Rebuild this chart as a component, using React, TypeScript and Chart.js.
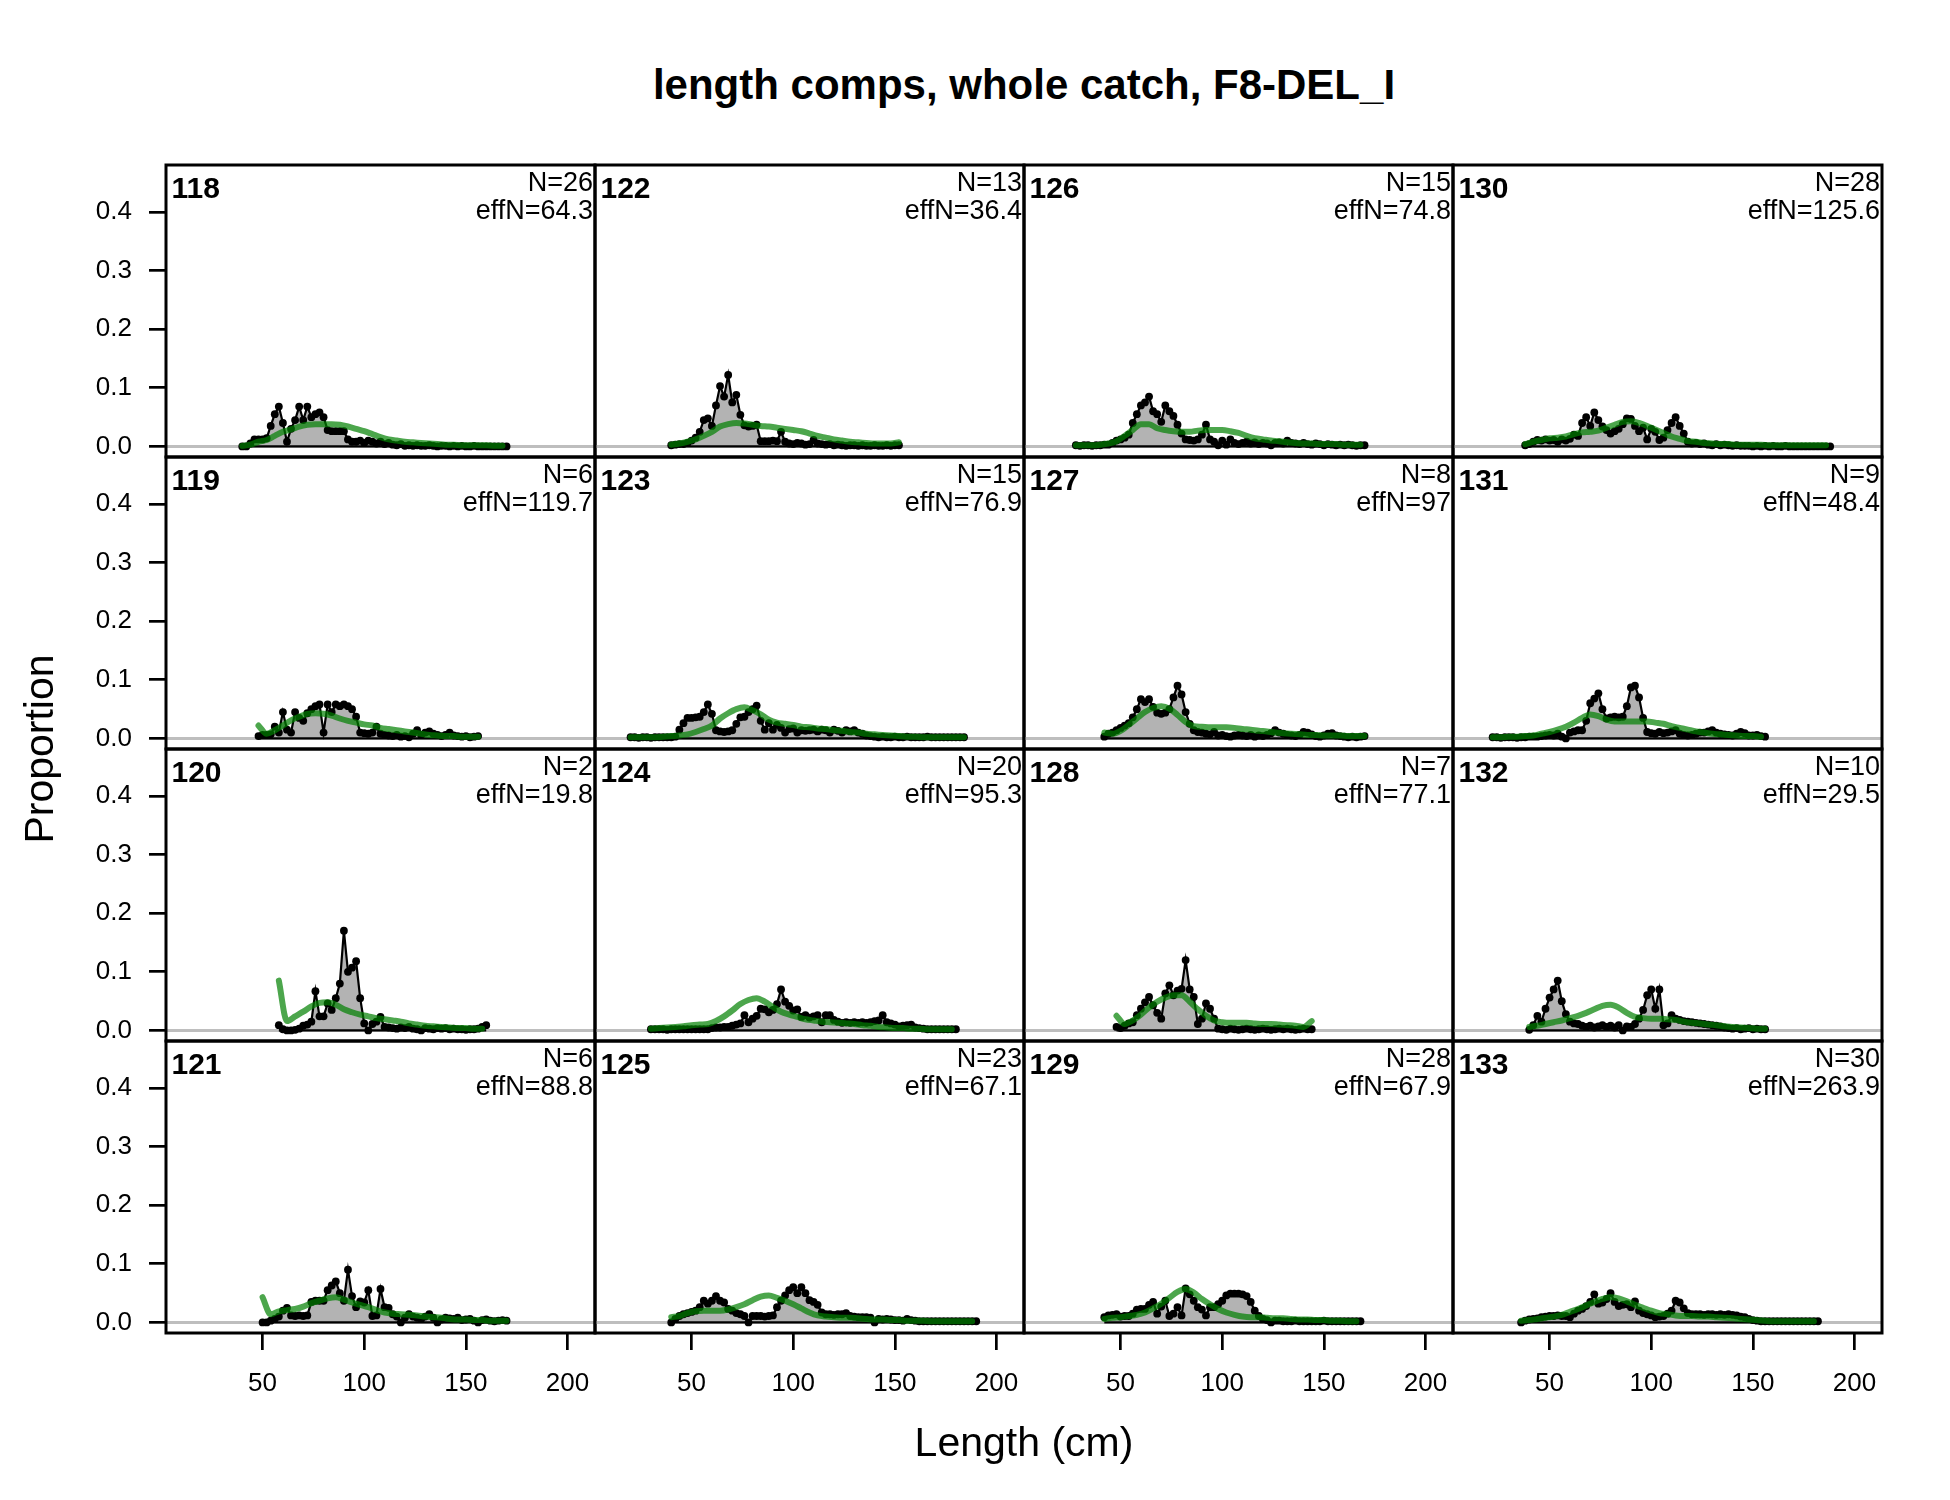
import React, { useEffect, useRef } from "react";
import { Chart, registerables } from "chart.js";

Chart.register(...registerables);

const FONT = '"Liberation Sans", Arial, Helvetica, sans-serif';

// ---------- data ----------
const TITLE = "length comps, whole catch, F8-DEL_I";
const X_TITLE = "Length (cm)";
const Y_TITLE = "Proportion";

// panels in column-major order (4 columns x 4 rows)
const PANEL_LABELS = [118, 119, 120, 121, 122, 123, 124, 125, 126, 127, 128, 129, 130, 131, 132, 133];
const N_VALUES = [26, 6, 2, 6, 13, 15, 20, 23, 15, 8, 7, 28, 28, 9, 10, 30];
const EFFN_VALUES = ["64.3", "119.7", "19.8", "88.8", "36.4", "76.9", "95.3", "67.1", "74.8", "97", "77.1", "67.9", "125.6", "48.4", "29.5", "263.9"];
const FIRST_BIN = [40, 48, 58, 50, 40, 20, 30, 40, 28, 42, 48, 42, 38, 22, 40, 36];
const BIN_WIDTH = 2; // observed bins, cm
const EXP_STEP = 4; // expected values are read every 4 cm

const X_TICKS = [50, 100, 150, 200];
const Y_TICKS = [0, 0.1, 0.2, 0.3, 0.4];
const X_MIN = 2.5;
const X_MAX = 213.5;
const Y_MIN = -0.018;
const Y_MAX = 0.48;

const OBS_118 = [0, 0, 0.005, 0.012, 0.012, 0.012, 0.014, 0.035, 0.055, 0.068,
  0.04, 0.008, 0.03, 0.045, 0.068, 0.045, 0.068, 0.05, 0.055, 0.058,
  0.05, 0.028, 0.026, 0.026, 0.026, 0.026, 0.012, 0.008, 0.008, 0.01,
  0.006, 0.01, 0.008, 0.005, 0.008, 0.004, 0.006, 0.003, 0.002, 0.004,
  0.001, 0.002, 0.001, 0.002, 0.001, 0.001, 0.002, 0.001, 0, 0.001,
  0.001, 0, 0.001, 0, 0.001, 0, 0, 0.001, 0, 0,
  0, 0, 0, 0, 0, 0];
const EXP_118 = [0.001, 0.003, 0.008, 0.011, 0.018, 0.025, 0.029, 0.034, 0.037, 0.038,
  0.038, 0.038, 0.037, 0.034, 0.03, 0.026, 0.021, 0.016, 0.012, 0.01,
  0.008, 0.007, 0.006, 0.005, 0.004, 0.003, 0.003, 0.002, 0.002, 0.002,
  0.002, 0.001, 0.001];

const OBS_119 = [0.004, 0.006, 0.006, 0.007, 0.02, 0.01, 0.045, 0.015, 0.01, 0.045,
  0.035, 0.03, 0.043, 0.05, 0.055, 0.058, 0.01, 0.058, 0.045, 0.058,
  0.055, 0.058, 0.055, 0.05, 0.037, 0.01, 0.009, 0.008, 0.01, 0.02,
  0.008, 0.006, 0.005, 0.004, 0.006, 0.003, 0.004, 0.002, 0.008, 0.014,
  0.006, 0.01, 0.012, 0.008, 0.006, 0.004, 0.006, 0.01, 0.005, 0.004,
  0.003, 0.004, 0.002, 0.003, 0.004];
const EXP_119 = [0.022, 0.008, 0.014, 0.022, 0.031, 0.037, 0.042, 0.043, 0.042, 0.039,
  0.034, 0.03, 0.027, 0.024, 0.022, 0.018, 0.016, 0.014, 0.012, 0.01,
  0.008, 0.006, 0.005, 0.004, 0.004, 0.003, 0.003, 0.003];

const OBS_120 = [0.009, 0.002, 0, 0, 0.001, 0.003, 0.008, 0.01, 0.015, 0.067,
  0.024, 0.024, 0.046, 0.035, 0.055, 0.08, 0.17, 0.1, 0.107, 0.118,
  0.055, 0.012, 0, 0.011, 0.015, 0.023, 0.006, 0.005, 0.004, 0.003,
  0.005, 0.004, 0.006, 0.003, 0.002, 0, 0.004, 0.003, 0.002, 0.004,
  0.003, 0.004, 0.002, 0.003, 0.002, 0.002, 0.001, 0.002, 0.002, 0.003,
  0.006, 0.009];
const EXP_120 = [0.085, 0.016, 0.024, 0.032, 0.041, 0.047, 0.048, 0.044, 0.036, 0.031,
  0.027, 0.024, 0.021, 0.019, 0.017, 0.015, 0.012, 0.01, 0.008, 0.007,
  0.006, 0.005, 0.004, 0.004, 0.003, 0.003];

const OBS_121 = [0, 0, 0.003, 0.006, 0.01, 0.02, 0.025, 0.012, 0.011, 0.012,
  0.011, 0.012, 0.035, 0.037, 0.037, 0.037, 0.055, 0.063, 0.07, 0.05,
  0.037, 0.09, 0.045, 0.026, 0.036, 0.034, 0.055, 0.011, 0.012, 0.057,
  0.026, 0.025, 0.014, 0.01, 0, 0.008, 0.014, 0.01, 0.008, 0.006,
  0.01, 0.014, 0.008, 0, 0.005, 0.008, 0.007, 0.006, 0.008, 0.004,
  0.005, 0.006, 0.003, 0, 0.004, 0.005, 0.003, 0.002, 0.003, 0.004,
  0.003];
const EXP_121 = [0.043, 0.014, 0.019, 0.021, 0.023, 0.027, 0.033, 0.037, 0.041, 0.043,
  0.039, 0.034, 0.03, 0.026, 0.021, 0.017, 0.015, 0.014, 0.013, 0.012,
  0.01, 0.009, 0.008, 0.006, 0.005, 0.005, 0.004, 0.004, 0.003, 0.003,
  0.003];

const OBS_122 = [0.002, 0.003, 0.004, 0.004, 0.006, 0.01, 0.015, 0.025, 0.045, 0.048,
  0.035, 0.07, 0.103, 0.085, 0.122, 0.075, 0.088, 0.054, 0.036, 0.034,
  0.035, 0.037, 0.009, 0.009, 0.009, 0.01, 0.009, 0.025, 0.008, 0.005,
  0.004, 0.006, 0.005, 0.003, 0.004, 0.011, 0.005, 0.004, 0.003, 0.004,
  0.002, 0.003, 0.002, 0.001, 0.002, 0.002, 0.001, 0.002, 0.001, 0.001,
  0.002, 0.001, 0.001, 0.002, 0.001, 0.002, 0.002];
const EXP_122 = [0.003, 0.005, 0.008, 0.012, 0.018, 0.025, 0.034, 0.038, 0.04, 0.039,
  0.037, 0.035, 0.034, 0.032, 0.03, 0.028, 0.026, 0.022, 0.018, 0.015,
  0.012, 0.01, 0.008, 0.007, 0.006, 0.005, 0.005, 0.005, 0.007];

const OBS_123 = [0.002, 0.002, 0.001, 0.002, 0.002, 0.001, 0.002, 0.002, 0.002, 0.002,
  0.002, 0.003, 0.015, 0.026, 0.035, 0.035, 0.036, 0.037, 0.045, 0.058,
  0.042, 0.014, 0.012, 0.011, 0.012, 0.014, 0.025, 0.036, 0.037, 0.045,
  0.05, 0.056, 0.03, 0.015, 0.026, 0.015, 0.023, 0.018, 0.01, 0.016,
  0.017, 0.01, 0.014, 0.013, 0.014, 0.015, 0.012, 0.015, 0.014, 0.01,
  0.015, 0.013, 0.01, 0.014, 0.012, 0.014, 0.01, 0.008, 0.005, 0.004,
  0.003, 0.002, 0.003, 0.002, 0.002, 0.003, 0.002, 0.002, 0.003, 0.002,
  0.002, 0.002, 0.002, 0.003, 0.002, 0.002, 0.002, 0.002, 0.002, 0.002,
  0.002, 0.002, 0.002];
const EXP_123 = [0.002, 0.002, 0.002, 0.002, 0.003, 0.004, 0.005, 0.007, 0.011, 0.016,
  0.022, 0.034, 0.043, 0.05, 0.053, 0.048, 0.041, 0.032, 0.027, 0.025,
  0.023, 0.02, 0.019, 0.017, 0.016, 0.014, 0.013, 0.011, 0.01, 0.008,
  0.007, 0.006, 0.005, 0.004, 0.003, 0.003, 0.002, 0.002, 0.002, 0.002,
  0.002, 0.002];

const OBS_124 = [0.002, 0.002, 0.002, 0.002, 0.001, 0.002, 0.002, 0.002, 0.002, 0.002,
  0.002, 0.002, 0.002, 0.002, 0.002, 0.004, 0.005, 0.005, 0.006, 0.006,
  0.008, 0.01, 0.012, 0.026, 0.014, 0.02, 0.025, 0.037, 0.036, 0.031,
  0.035, 0.045, 0.07, 0.049, 0.042, 0.034, 0.036, 0.023, 0.026, 0.022,
  0.024, 0.026, 0.014, 0.026, 0.026, 0.018, 0.015, 0.013, 0.014, 0.013,
  0.014, 0.013, 0.014, 0.013, 0.014, 0.016, 0.017, 0.026, 0.014, 0.012,
  0.01, 0.007, 0.008, 0.009, 0.01, 0.005, 0.004, 0.003, 0.002, 0.002,
  0.002, 0.002, 0.002, 0.002, 0.002, 0.002];
const EXP_124 = [0.003, 0.004, 0.005, 0.006, 0.007, 0.009, 0.01, 0.011, 0.016, 0.024,
  0.034, 0.045, 0.052, 0.055, 0.049, 0.04, 0.032, 0.027, 0.023, 0.019,
  0.017, 0.015, 0.014, 0.013, 0.012, 0.011, 0.009, 0.008, 0.006, 0.005,
  0.004, 0.004, 0.003, 0.003, 0.002, 0.002, 0.002, 0.002];

const OBS_125 = [0, 0.006, 0.011, 0.014, 0.016, 0.018, 0.02, 0.026, 0.037, 0.032,
  0.037, 0.045, 0.037, 0.034, 0.023, 0.02, 0.016, 0.014, 0.011, 0,
  0.011, 0.011, 0.011, 0.01, 0.011, 0.012, 0.026, 0.037, 0.046, 0.055,
  0.06, 0.05, 0.06, 0.05, 0.038, 0.035, 0.03, 0.017, 0.014, 0.014,
  0.013, 0.014, 0.014, 0.016, 0.011, 0.01, 0.009, 0.009, 0.009, 0.008,
  0, 0.006, 0.005, 0.006, 0.005, 0.004, 0.004, 0.003, 0.006, 0.004,
  0.003, 0.002, 0.002, 0.002, 0.002, 0.002, 0.002, 0.002, 0.002, 0.002,
  0.002, 0.002, 0.002, 0.002, 0.002, 0.002];
const EXP_125 = [0.009, 0.011, 0.016, 0.019, 0.02, 0.02, 0.02, 0.022, 0.026, 0.031,
  0.038, 0.044, 0.046, 0.042, 0.037, 0.031, 0.024, 0.017, 0.012, 0.01,
  0.009, 0.008, 0.008, 0.007, 0.006, 0.005, 0.005, 0.004, 0.004, 0.003,
  0.003, 0.003, 0.002, 0.002, 0.002, 0.002, 0.002, 0.002];

const OBS_126 = [0.002, 0.001, 0.002, 0.002, 0.001, 0.002, 0.002, 0.003, 0.003,
  0.006, 0.01, 0.012, 0.015, 0.02, 0.04, 0.055, 0.07, 0.075, 0.085,
  0.06, 0.055, 0.042, 0.07, 0.06, 0.052, 0.037, 0.022, 0.012, 0.011,
  0.01, 0.012, 0.02, 0.037, 0.012, 0.008, 0.002, 0.01, 0.003, 0.012,
  0.006, 0.004, 0.006, 0.008, 0.005, 0.007, 0.004, 0.006, 0.005, 0.002,
  0.006, 0.007, 0.005, 0.01, 0.006, 0.005, 0.004, 0.006, 0.004, 0.003,
  0.005, 0.004, 0.002, 0.004, 0.003, 0.002, 0.003, 0.002, 0.003, 0.002,
  0.001, 0.002, 0.002];
const EXP_126 = [0.002, 0.002, 0.002, 0.003, 0.005, 0.009, 0.018, 0.028, 0.038, 0.038,
  0.031, 0.028, 0.026, 0.025, 0.025, 0.027, 0.028, 0.028, 0.028, 0.026,
  0.023, 0.018, 0.014, 0.012, 0.01, 0.009, 0.007, 0.006, 0.005, 0.005,
  0.004, 0.004, 0.004, 0.003, 0.003, 0.003];

const OBS_127 = [0.003, 0.008, 0.01, 0.014, 0.018, 0.022, 0.026, 0.036, 0.05, 0.067,
  0.062, 0.067, 0.054, 0.044, 0.042, 0.044, 0.05, 0.07, 0.09, 0.075,
  0.045, 0.025, 0.014, 0.011, 0.01, 0.008, 0.007, 0.011, 0.005, 0.006,
  0.004, 0.003, 0.005, 0.006, 0.005, 0.004, 0.006, 0.003, 0.005, 0.004,
  0.006, 0.009, 0.014, 0.01, 0.008, 0.006, 0.005, 0.004, 0.006, 0.011,
  0.01, 0.007, 0.004, 0.003, 0.005, 0.008, 0.009, 0.005, 0.004, 0.003,
  0.002, 0.003, 0.002, 0.003, 0.004];
const EXP_127 = [0.01, 0.008, 0.013, 0.023, 0.034, 0.045, 0.052, 0.055, 0.051, 0.04,
  0.028, 0.021, 0.02, 0.019, 0.019, 0.019, 0.018, 0.016, 0.015, 0.013,
  0.012, 0.01, 0.009, 0.008, 0.007, 0.006, 0.006, 0.005, 0.005, 0.005,
  0.004, 0.004, 0.004];

const OBS_128 = [0.006, 0.004, 0.008, 0.012, 0.014, 0.026, 0.037, 0.048, 0.057, 0.043,
  0.03, 0.02, 0.063, 0.077, 0.06, 0.068, 0.071, 0.12, 0.07, 0.057,
  0.011, 0.02, 0.046, 0.037, 0.02, 0.003, 0.002, 0.001, 0.003, 0.002,
  0.001, 0.002, 0.003, 0.002, 0.001, 0.002, 0.003, 0.002, 0.001, 0.002,
  0.003, 0.002, 0.003, 0.002, 0.001, 0.002, 0.003, 0.002, 0.002];
const EXP_128 = [0.025, 0.011, 0.017, 0.027, 0.039, 0.049, 0.056, 0.06, 0.06, 0.049,
  0.036, 0.025, 0.017, 0.014, 0.013, 0.013, 0.013, 0.012, 0.011, 0.011,
  0.01, 0.009, 0.008, 0.006, 0.016];

const OBS_129 = [0.009, 0.012, 0.013, 0.014, 0.01, 0.011, 0.011, 0.015, 0.022, 0.023,
  0.023, 0.03, 0.035, 0.015, 0.027, 0.037, 0.011, 0.015, 0.026, 0.012,
  0.058, 0.048, 0.037, 0.026, 0.022, 0.012, 0.026, 0.026, 0.031, 0.037,
  0.046, 0.049, 0.049, 0.049, 0.048, 0.045, 0.035, 0.02, 0.011, 0.006,
  0.004, 0, 0.003, 0.003, 0.002, 0.002, 0.002, 0.003, 0.002, 0.002,
  0.002, 0.002, 0.002, 0.002, 0.003, 0.002, 0.002, 0.002, 0.002, 0.002,
  0.002, 0.002, 0.002, 0.002];
const EXP_129 = [0.006, 0.008, 0.009, 0.011, 0.013, 0.017, 0.024, 0.032, 0.042, 0.052,
  0.057, 0.051, 0.04, 0.031, 0.023, 0.017, 0.013, 0.01, 0.009, 0.009,
  0.008, 0.007, 0.007, 0.006, 0.005, 0.005, 0.004, 0.004, 0.003, 0.003,
  0.002, 0.002];

const OBS_130 = [0.002, 0.004, 0.008, 0.011, 0.01, 0.012, 0.01, 0.011, 0.008, 0.012,
  0.01, 0.013, 0.02, 0.018, 0.04, 0.05, 0.035, 0.058, 0.045, 0.034,
  0.028, 0.022, 0.026, 0.03, 0.038, 0.048, 0.047, 0.035, 0.026, 0.032,
  0.012, 0.03, 0.025, 0.011, 0.015, 0.028, 0.04, 0.05, 0.035, 0.022,
  0.008, 0.005, 0.006, 0.004, 0.005, 0.003, 0.002, 0.004, 0.002, 0.003,
  0.002, 0.001, 0.002, 0.001, 0.001, 0.001, 0, 0.001, 0, 0.001,
  0, 0.001, 0, 0, 0.001, 0, 0, 0, 0, 0,
  0, 0, 0, 0, 0, 0];
const EXP_130 = [0.004, 0.008, 0.011, 0.014, 0.015, 0.017, 0.021, 0.024, 0.025, 0.027,
  0.032, 0.037, 0.042, 0.043, 0.04, 0.035, 0.029, 0.023, 0.017, 0.013,
  0.009, 0.008, 0.006, 0.005, 0.004, 0.004, 0.003, 0.003, 0.003, 0.003,
  0.002, 0.002, 0.002, 0.002, 0.002, 0.002, 0.002, 0.002];

const OBS_131 = [0.002, 0.002, 0.001, 0.002, 0.002, 0.002, 0.001, 0.002, 0.002, 0.003,
  0.003, 0.003, 0.004, 0.005, 0.006, 0.005, 0.008, 0.003, 0, 0.01,
  0.012, 0.014, 0.014, 0.03, 0.06, 0.068, 0.077, 0.05, 0.034, 0.036,
  0.037, 0.036, 0.037, 0.055, 0.087, 0.09, 0.07, 0.035, 0.011, 0.009,
  0.008, 0.011, 0.009, 0.01, 0.012, 0.014, 0.008, 0.006, 0.005, 0.006,
  0.008, 0.01, 0.01, 0.012, 0.014, 0.01, 0.008, 0.007, 0.006, 0.005,
  0.008, 0.011, 0.009, 0.005, 0.005, 0.006, 0.004, 0.003];
const EXP_131 = [0.002, 0.002, 0.003, 0.003, 0.004, 0.005, 0.008, 0.011, 0.015, 0.02,
  0.027, 0.035, 0.041, 0.038, 0.032, 0.029, 0.029, 0.029, 0.029, 0.029,
  0.027, 0.025, 0.021, 0.018, 0.015, 0.012, 0.01, 0.008, 0.007, 0.006,
  0.005, 0.004, 0.004, 0.003];

const OBS_132 = [0.001, 0.009, 0.025, 0.015, 0.037, 0.056, 0.07, 0.085, 0.05, 0.028,
  0.015, 0.012, 0.011, 0.008, 0.006, 0.008, 0.005, 0.007, 0.009, 0.006,
  0.008, 0.005, 0.009, 0, 0.007, 0.006, 0.011, 0.02, 0.035, 0.06,
  0.07, 0.037, 0.07, 0.009, 0.012, 0.026, 0.02, 0.018, 0.016, 0.015,
  0.014, 0.013, 0.012, 0.011, 0.01, 0.009, 0.008, 0.007, 0.005, 0.004,
  0.003, 0.004, 0.002, 0.003, 0.004, 0.002, 0.003, 0.002, 0.002];
const EXP_132 = [0.006, 0.008, 0.011, 0.014, 0.017, 0.021, 0.025, 0.03, 0.036, 0.042,
  0.044, 0.039, 0.03, 0.023, 0.021, 0.02, 0.02, 0.019, 0.018, 0.015,
  0.013, 0.012, 0.01, 0.009, 0.007, 0.006, 0.005, 0.004, 0.003, 0.003];

const OBS_133 = [0, 0.003, 0.005, 0.006, 0.007, 0.009, 0.01, 0.011, 0.011, 0.012,
  0.011, 0.011, 0.009, 0.015, 0.02, 0.023, 0.028, 0.035, 0.048, 0.032,
  0.034, 0.04, 0.05, 0.035, 0.028, 0.03, 0.031, 0.026, 0.036, 0.02,
  0.016, 0.014, 0.012, 0.009, 0.01, 0.011, 0.015, 0.02, 0.037, 0.034,
  0.024, 0.016, 0.014, 0.014, 0.014, 0.013, 0.014, 0.014, 0.013, 0.014,
  0.013, 0.014, 0.013, 0.012, 0.01, 0.009, 0.006, 0.004, 0.003, 0.002,
  0.002, 0.002, 0.002, 0.002, 0.002, 0.002, 0.002, 0.002, 0.002, 0.002,
  0.002, 0.002, 0.002, 0.002];
const EXP_133 = [0.003, 0.004, 0.006, 0.008, 0.01, 0.013, 0.018, 0.023, 0.029, 0.035,
  0.04, 0.043, 0.041, 0.036, 0.03, 0.025, 0.02, 0.016, 0.014, 0.012,
  0.011, 0.011, 0.01, 0.01, 0.009, 0.008, 0.007, 0.006, 0.005, 0.004,
  0.003, 0.002, 0.002, 0.002, 0.002, 0.002, 0.002];

const OBS = [OBS_118, OBS_119, OBS_120, OBS_121, OBS_122, OBS_123, OBS_124, OBS_125,
  OBS_126, OBS_127, OBS_128, OBS_129, OBS_130, OBS_131, OBS_132, OBS_133];
const EXP = [EXP_118, EXP_119, EXP_120, EXP_121, EXP_122, EXP_123, EXP_124, EXP_125,
  EXP_126, EXP_127, EXP_128, EXP_129, EXP_130, EXP_131, EXP_132, EXP_133];

// ---------- layout ----------
const GRID_LEFT = 166;
const GRID_TOP = 165;
const PW = 429;
const PH = 292;
const AXIS_LEFT_SPACE = 166;
const AXIS_BOTTOM_SPACE = 90;

const framePlugin = {
  id: "frame",
  beforeDatasetsDraw(chart: any) {
    const { ctx, chartArea: a, scales } = chart;
    const py = scales.y.getPixelForValue(0);
    ctx.save();
    ctx.strokeStyle = "#bebebe";
    ctx.lineWidth = 3;
    ctx.beginPath();
    ctx.moveTo(a.left, py);
    ctx.lineTo(a.right, py);
    ctx.stroke();
    ctx.restore();
  },
  afterDraw(chart: any) {
    const { ctx, chartArea: a } = chart;
    ctx.save();
    ctx.strokeStyle = "#000";
    ctx.lineWidth = 3;
    ctx.strokeRect(a.left, a.top, a.right - a.left, a.bottom - a.top);
    ctx.restore();
  },
};

function Panel({ index }: { index: number }) {
  const ref = useRef<HTMLCanvasElement | null>(null);
  const col = Math.floor(index / 4);
  const row = index % 4;
  const hasY = col === 0;
  const hasX = row === 3;
  const ml = hasY ? AXIS_LEFT_SPACE : 6;
  const mr = 6;
  const mt = 6;
  const mb = hasX ? AXIS_BOTTOM_SPACE : 6;
  const w = PW + ml + mr;
  const h = PH + mt + mb;
  const left = GRID_LEFT + col * PW - ml;
  const top = GRID_TOP + row * PH - mt;

  useEffect(() => {
    const start = FIRST_BIN[index];
    const obsVals = OBS[index];
    const obs = obsVals.map((v, k) => ({ x: start + k * BIN_WIDTH, y: v }));
    const exp = EXP[index].map((v, k) => ({ x: start + k * EXP_STEP, y: v }));
    const lastBin = start + (obsVals.length - 1) * BIN_WIDTH;
    const base = [
      { x: start, y: 0 },
      { x: lastBin, y: 0 },
    ];
    const tickFont = { family: FONT, size: 26 };
    const chart = new Chart(ref.current as HTMLCanvasElement, {
      type: "line",
      data: {
        datasets: [
          {
            label: "expected",
            data: exp,
            borderColor: "rgba(0,128,0,0.7)",
            borderWidth: 6,
            pointRadius: 0,
            fill: false,
            cubicInterpolationMode: "monotone",
            borderCapStyle: "round",
            borderJoinStyle: "round",
          },
          {
            label: "base",
            data: base,
            borderColor: "#000",
            borderWidth: 2.2,
            pointRadius: 0,
            fill: false,
          },
          {
            label: "observed",
            data: obs,
            borderColor: "#000",
            borderWidth: 2.2,
            backgroundColor: "#b3b3b3",
            fill: "origin",
            tension: 0,
            pointRadius: 3.9,
            pointBackgroundColor: "#000",
            pointBorderColor: "#000",
            pointBorderWidth: 0,
          },
        ],
      } as any,
      options: {
        animation: false,
        responsive: false,
        events: [],
        layout: { padding: { left: hasY ? 0 : ml, right: mr, top: mt, bottom: hasX ? 0 : mb } },
        plugins: {
          legend: { display: false },
          tooltip: { enabled: false },
          title: { display: false },
        },
        scales: {
          x: {
            type: "linear",
            min: X_MIN,
            max: X_MAX,
            display: hasX,
            afterBuildTicks: (s: any) => {
              s.ticks = X_TICKS.map((v) => ({ value: v }));
            },
            afterFit: (s: any) => {
              s.height = hasX ? AXIS_BOTTOM_SPACE : 0;
              s.paddingLeft = 0;
              s.paddingRight = 0;
              s.paddingTop = 0;
              s.paddingBottom = 0;
            },
            grid: { drawOnChartArea: false, drawTicks: true, tickLength: 17, color: "#000", lineWidth: 2.7 },
            border: { display: false },
            ticks: {
              font: tickFont,
              color: "#000",
              padding: 18,
              maxRotation: 0,
              minRotation: 0,
              autoSkip: false,
              callback: (v: any) => String(v),
            },
          },
          y: {
            type: "linear",
            min: Y_MIN,
            max: Y_MAX,
            display: hasY,
            afterBuildTicks: (s: any) => {
              s.ticks = Y_TICKS.map((v) => ({ value: v }));
            },
            afterFit: (s: any) => {
              s.width = hasY ? AXIS_LEFT_SPACE : 0;
              s.paddingLeft = 0;
              s.paddingRight = 0;
              s.paddingTop = 0;
              s.paddingBottom = 0;
            },
            grid: { drawOnChartArea: false, drawTicks: true, tickLength: 17, color: "#000", lineWidth: 2.7 },
            border: { display: false },
            ticks: {
              font: tickFont,
              color: "#000",
              padding: 17,
              autoSkip: false,
              callback: (v: any) => Number(v).toFixed(1),
            },
          },
        },
      } as any,
      plugins: [framePlugin],
    });
    return () => chart.destroy();
  }, [index]);

  return (
    <canvas
      ref={ref}
      width={w}
      height={h}
      style={{ position: "absolute", left, top, width: w, height: h }}
    />
  );
}

function PanelText({ index }: { index: number }) {
  const col = Math.floor(index / 4);
  const row = index % 4;
  const pl = GRID_LEFT + col * PW;
  const pt = GRID_TOP + row * PH;
  const pr = pl + PW;
  const common: React.CSSProperties = {
    position: "absolute",
    fontFamily: FONT,
    lineHeight: 1,
    whiteSpace: "nowrap",
    color: "#000",
  };
  return (
    <>
      <div style={{ ...common, left: pl + 5.5, top: pt + 8, fontSize: 30, fontWeight: "bold" }}>
        {PANEL_LABELS[index]}
      </div>
      <div style={{ ...common, left: pr - 302, width: 300, top: pt + 4.4, fontSize: 27, textAlign: "right" }}>
        {"N=" + N_VALUES[index]}
      </div>
      <div style={{ ...common, left: pr - 302, width: 300, top: pt + 32, fontSize: 27, textAlign: "right" }}>
        {"effN=" + EFFN_VALUES[index]}
      </div>
    </>
  );
}

export default function App() {
  const gridCenterX = GRID_LEFT + 2 * PW;
  const gridCenterY = GRID_TOP + 2 * PH;
  return (
    <div
      style={{
        position: "absolute",
        left: 0,
        top: 0,
        width: 1950,
        height: 1500,
        background: "#fff",
        overflow: "hidden",
      }}
    >
      <div
        style={{
          position: "absolute",
          left: gridCenterX - 600,
          width: 1200,
          top: 64,
          textAlign: "center",
          fontFamily: FONT,
          fontWeight: "bold",
          fontSize: 42,
          lineHeight: 1,
          whiteSpace: "nowrap",
        }}
      >
        {TITLE}
      </div>
      {PANEL_LABELS.map((_, i) => (
        <Panel key={"p" + i} index={i} />
      ))}
      {PANEL_LABELS.map((_, i) => (
        <PanelText key={"t" + i} index={i} />
      ))}
      <div
        style={{
          position: "absolute",
          left: gridCenterX - 300,
          width: 600,
          top: 1422,
          textAlign: "center",
          fontFamily: FONT,
          fontSize: 41,
          lineHeight: 1,
          whiteSpace: "nowrap",
        }}
      >
        {X_TITLE}
      </div>
      <div
        style={{
          position: "absolute",
          left: 39 - 200,
          top: gridCenterY - 25,
          width: 400,
          height: 50,
          lineHeight: "50px",
          textAlign: "center",
          fontFamily: FONT,
          fontSize: 41,
          whiteSpace: "nowrap",
          transform: "rotate(-90deg)",
        }}
      >
        {Y_TITLE}
      </div>
    </div>
  );
}
